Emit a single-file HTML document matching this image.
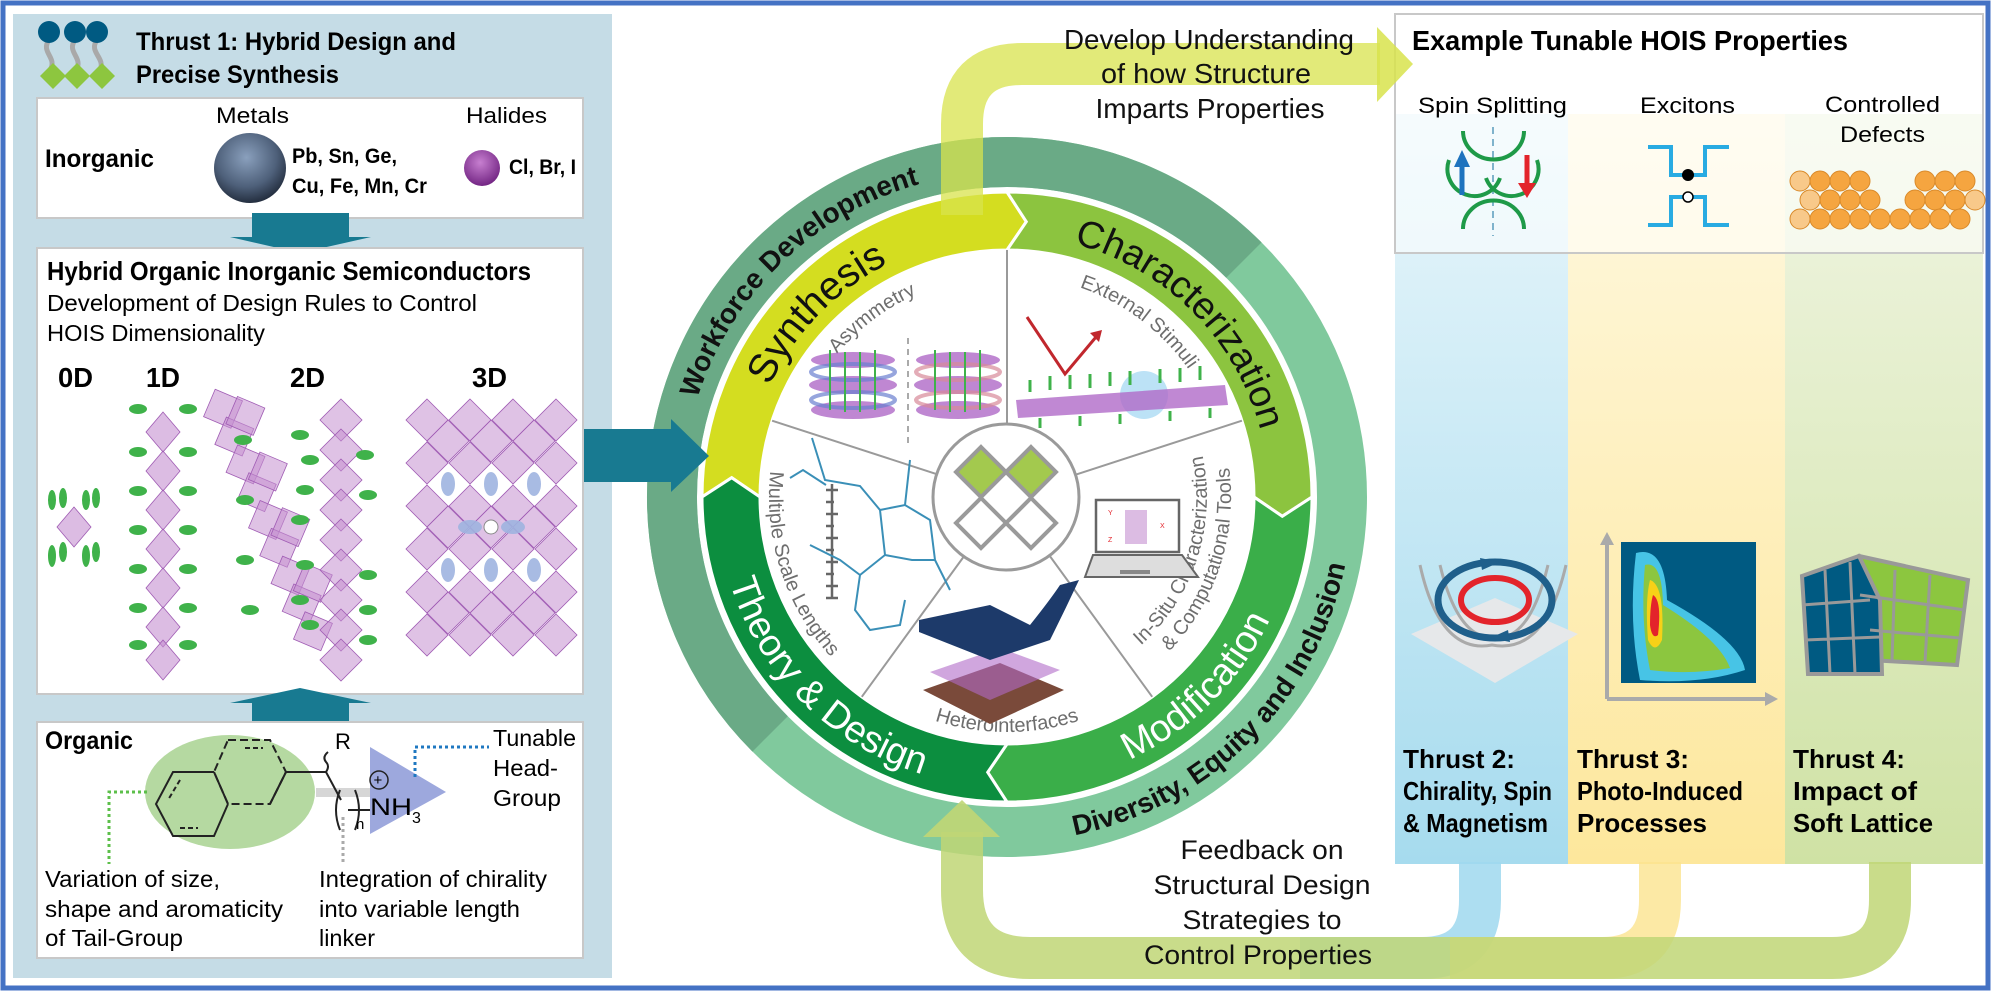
<!DOCTYPE html>
<html><head><meta charset="utf-8"><style>
html,body{margin:0;padding:0;background:#fff;}
svg{display:block;}
text{font-family:"Liberation Sans",sans-serif;}
.b{font-weight:bold;}
</style></head><body>
<svg width="1991" height="991" viewBox="0 0 1991 991" xmlns="http://www.w3.org/2000/svg">
<defs>
<radialGradient id="metal" cx="0.45" cy="0.35" r="0.7"><stop offset="0" stop-color="#8aa0bd"/><stop offset="0.6" stop-color="#4e607a"/><stop offset="1" stop-color="#1b2433"/></radialGradient>
<radialGradient id="hal" cx="0.45" cy="0.35" r="0.7"><stop offset="0" stop-color="#c77fd0"/><stop offset="1" stop-color="#6d1f7e"/></radialGradient>
<linearGradient id="cb" x1="0" y1="0" x2="0" y2="1"><stop offset="0" stop-color="#f2fafd"/><stop offset="1" stop-color="#a6dbee"/></linearGradient>
<linearGradient id="cy" x1="0" y1="0" x2="0" y2="1"><stop offset="0" stop-color="#fffbea"/><stop offset="1" stop-color="#fde79c"/></linearGradient>
<linearGradient id="cg" x1="0" y1="0" x2="0" y2="1"><stop offset="0" stop-color="#f5f8ec"/><stop offset="1" stop-color="#cfe2a4"/></linearGradient>
<polygon id="oct" points="0,-21 21,0 0,21 -21,0" fill="#c58fd0" fill-opacity="0.55" stroke="#a05cb4" stroke-width="0.8"/>
<polygon id="octs" points="0,-20 17,0 0,20 -17,0" fill="#c58fd0" fill-opacity="0.6" stroke="#a05cb4" stroke-width="0.8"/>
<ellipse id="grn" rx="9" ry="5" fill="#3fb24a"/>
<path id="pWork" d="M691.7,575.6 A325,325 0 0 1 1096.6,184.6"/>
<path id="pDEI" d="M917.7,830.2 A345,345 0 0 0 1340.2,407.7"/>
<path id="pSyn" d="M755.1,569.2 A262,262 0 0 1 1070.4,242.8"/>
<path id="pChar" d="M939.2,243.9 A262,262 0 0 1 1260.1,564.8"/>
<path id="pMod" d="M931.9,777.1 A290,290 0 0 0 1287.1,421.9"/>
<path id="pThe" d="M726.9,421.9 A290,290 0 0 0 1082.1,777.1"/>
<path id="pAsy" d="M790.7,447.1 A222,222 0 0 1 1018.6,275.3"/>
<path id="pExt" d="M995.4,275.3 A222,222 0 0 1 1223.3,447.1"/>
<path id="pIn1" d="M1048.6,692.6 A200,200 0 0 0 1155.6,363.2"/>
<path id="pIn2" d="M1053.6,716.1 A224,224 0 0 0 1173.5,347.1"/>
<path id="pHet" d="M855.9,677 A235,235 0 0 0 1158.1,677"/>
<path id="pMul" d="M786.3,407.8 A238,238 0 0 0 880.9,698.8"/>
</defs>

<!-- LEFT PANEL -->
<rect x="13" y="14" width="599" height="964" fill="#c5dce6"/>
<g stroke="#a9a9a9" stroke-width="5" fill="none">
<path d="M49,40 C40,52 58,58 50,70"/><path d="M75,40 C66,52 84,58 76,70"/><path d="M97,40 C88,52 106,58 100,70"/>
</g>
<circle cx="49" cy="32" r="11" fill="#005a82"/><circle cx="75" cy="32" r="11" fill="#005a82"/><circle cx="97" cy="32" r="11" fill="#005a82"/>
<g fill="#8dc63f"><polygon points="53,63 66,76 53,89 40,76"/><polygon points="77,63 90,76 77,89 64,76"/><polygon points="102,63 115,76 102,89 89,76"/></g>
<text x="136" y="50" class="b" font-size="25" textLength="320" lengthAdjust="spacingAndGlyphs">Thrust 1: Hybrid Design and</text>
<text x="136" y="83" class="b" font-size="25" textLength="203" lengthAdjust="spacingAndGlyphs">Precise Synthesis</text>

<rect x="37" y="98" width="546" height="120" fill="#fff" stroke="#c8c8c8" stroke-width="2"/>
<text x="45" y="167" class="b" font-size="25" textLength="109" lengthAdjust="spacingAndGlyphs">Inorganic</text>
<text x="216" y="123" font-size="22" textLength="73" lengthAdjust="spacingAndGlyphs">Metals</text>
<text x="466" y="123" font-size="22" textLength="81" lengthAdjust="spacingAndGlyphs">Halides</text>
<ellipse cx="250" cy="168" rx="36" ry="35" fill="url(#metal)"/>
<text x="292" y="163" class="b" font-size="21" textLength="105" lengthAdjust="spacingAndGlyphs">Pb, Sn, Ge,</text>
<text x="292" y="193" class="b" font-size="21" textLength="135" lengthAdjust="spacingAndGlyphs">Cu, Fe, Mn, Cr</text>
<circle cx="482" cy="168" r="18" fill="url(#hal)"/>
<text x="509" y="174" class="b" font-size="21" textLength="67" lengthAdjust="spacingAndGlyphs">Cl, Br, I</text>
<polygon points="252,213 349,213 349,237 371,237 300,253 230,237 252,237" fill="#187a91"/>

<rect x="37" y="248" width="546" height="446" fill="#fff" stroke="#c8c8c8" stroke-width="2"/>
<text x="47" y="280" class="b" font-size="26" textLength="484" lengthAdjust="spacingAndGlyphs">Hybrid Organic Inorganic Semiconductors</text>
<text x="47" y="311" font-size="23" textLength="430" lengthAdjust="spacingAndGlyphs">Development of Design Rules to Control</text>
<text x="47" y="341" font-size="23" textLength="218" lengthAdjust="spacingAndGlyphs">HOIS Dimensionality</text>
<text x="58" y="387" class="b" font-size="28" textLength="35" lengthAdjust="spacingAndGlyphs">0D</text>
<text x="146" y="387" class="b" font-size="28" textLength="34" lengthAdjust="spacingAndGlyphs">1D</text>
<text x="290" y="387" class="b" font-size="28" textLength="35" lengthAdjust="spacingAndGlyphs">2D</text>
<text x="472" y="387" class="b" font-size="28" textLength="35" lengthAdjust="spacingAndGlyphs">3D</text>
<use href="#octs" x="74" y="527"/>
<g fill="#3fb24a"><ellipse cx="52" cy="500" rx="4" ry="10"/><ellipse cx="63" cy="498" rx="4" ry="10"/><ellipse cx="86" cy="500" rx="4" ry="10"/><ellipse cx="96" cy="498" rx="4" ry="10"/>
<ellipse cx="52" cy="556" rx="4" ry="11"/><ellipse cx="63" cy="552" rx="4" ry="10"/><ellipse cx="86" cy="556" rx="4" ry="11"/><ellipse cx="96" cy="552" rx="4" ry="10"/></g>
<g><use href="#octs" x="163" y="432"/><use href="#octs" x="163" y="471"/><use href="#octs" x="163" y="510"/><use href="#octs" x="163" y="549"/><use href="#octs" x="163" y="588"/><use href="#octs" x="163" y="627"/><use href="#octs" x="163" y="660"/></g>
<g><use href="#grn" x="138" y="409"/><use href="#grn" x="188" y="409"/><use href="#grn" x="138" y="452"/><use href="#grn" x="188" y="452"/><use href="#grn" x="138" y="491"/><use href="#grn" x="188" y="491"/><use href="#grn" x="138" y="530"/><use href="#grn" x="188" y="530"/><use href="#grn" x="138" y="569"/><use href="#grn" x="188" y="569"/><use href="#grn" x="138" y="608"/><use href="#grn" x="188" y="608"/><use href="#grn" x="138" y="645"/><use href="#grn" x="188" y="645"/></g>
<g transform="translate(268,520) rotate(-22)">
<use href="#oct" x="0" y="-120"/><use href="#oct" x="0" y="-90"/><use href="#oct" x="0" y="-60"/><use href="#oct" x="0" y="-30"/><use href="#oct" x="0" y="0"/><use href="#oct" x="0" y="30"/><use href="#oct" x="0" y="60"/><use href="#oct" x="0" y="90"/><use href="#oct" x="0" y="120"/>
<use href="#oct" x="18" y="-105"/><use href="#oct" x="18" y="-45"/><use href="#oct" x="18" y="15"/><use href="#oct" x="18" y="75"/>
</g>
<g><use href="#oct" x="341" y="420"/><use href="#oct" x="341" y="450"/><use href="#oct" x="341" y="480"/><use href="#oct" x="341" y="510"/><use href="#oct" x="341" y="540"/><use href="#oct" x="341" y="570"/><use href="#oct" x="341" y="600"/><use href="#oct" x="341" y="630"/><use href="#oct" x="341" y="660"/></g>
<g><use href="#grn" x="243" y="440"/><use href="#grn" x="300" y="435"/><use href="#grn" x="310" y="460"/><use href="#grn" x="365" y="455"/><use href="#grn" x="245" y="500"/><use href="#grn" x="305" y="490"/><use href="#grn" x="368" y="495"/><use href="#grn" x="300" y="520"/><use href="#grn" x="245" y="560"/><use href="#grn" x="305" y="565"/><use href="#grn" x="368" y="575"/><use href="#grn" x="300" y="600"/><use href="#grn" x="368" y="610"/><use href="#grn" x="250" y="610"/><use href="#grn" x="310" y="625"/><use href="#grn" x="368" y="640"/></g>
<g>
<use href="#oct" x="427" y="420"/><use href="#oct" x="470" y="420"/><use href="#oct" x="513" y="420"/><use href="#oct" x="556" y="420"/>
<use href="#oct" x="427" y="463"/><use href="#oct" x="470" y="463"/><use href="#oct" x="513" y="463"/><use href="#oct" x="556" y="463"/>
<use href="#oct" x="427" y="506"/><use href="#oct" x="470" y="506"/><use href="#oct" x="513" y="506"/><use href="#oct" x="556" y="506"/>
<use href="#oct" x="427" y="549"/><use href="#oct" x="470" y="549"/><use href="#oct" x="513" y="549"/><use href="#oct" x="556" y="549"/>
<use href="#oct" x="427" y="592"/><use href="#oct" x="470" y="592"/><use href="#oct" x="513" y="592"/><use href="#oct" x="556" y="592"/>
<use href="#oct" x="427" y="635"/><use href="#oct" x="470" y="635"/><use href="#oct" x="513" y="635"/><use href="#oct" x="556" y="635"/>
<use href="#oct" x="448" y="441"/><use href="#oct" x="491" y="441"/><use href="#oct" x="534" y="441"/>
<use href="#oct" x="448" y="527"/><use href="#oct" x="491" y="527"/><use href="#oct" x="534" y="527"/>
<use href="#oct" x="448" y="613"/><use href="#oct" x="491" y="613"/><use href="#oct" x="534" y="613"/>
</g>
<g fill="#9fb4e0" opacity="0.9"><ellipse cx="448" cy="484" rx="7" ry="12"/><ellipse cx="491" cy="484" rx="7" ry="12"/><ellipse cx="534" cy="484" rx="7" ry="12"/><ellipse cx="448" cy="570" rx="7" ry="12"/><ellipse cx="491" cy="570" rx="7" ry="12"/><ellipse cx="534" cy="570" rx="7" ry="12"/><ellipse cx="470" cy="527" rx="12" ry="7"/><ellipse cx="513" cy="527" rx="12" ry="7"/></g>
<circle cx="491" cy="527" r="7" fill="#fff" stroke="#888" stroke-width="1"/>
<polygon points="252,728 349,728 349,703 371,703 300,688 230,703 252,703" fill="#187a91"/>

<rect x="37" y="722" width="546" height="236" fill="#fff" stroke="#c8c8c8" stroke-width="2"/>
<text x="45" y="749" class="b" font-size="25" textLength="88" lengthAdjust="spacingAndGlyphs">Organic</text>
<ellipse cx="230" cy="792" rx="85" ry="57" fill="#b5d9a1"/>
<rect x="316" y="788" width="54" height="9" fill="#d6d6d6"/>
<polygon points="370,747 446,792 370,834" fill="#9da8dd"/>
<g stroke="#222" stroke-width="2" fill="none">
<path d="M228,740 L270,740 L286,772 L270,804 L228,804 L214,772 Z" stroke-dasharray="8,4"/>
<path d="M214,772 L228,804 M270,804 L286,772 M214,772 L173,772 L156,804 L173,836 L214,836 L228,804"/>
<path d="M286,772 L326,772 M326,772 q4,-6 0,-10 q-4,-5 2,-10 M326,772 L341,800"/>
<path d="M340,790 q-8,20 0,40 M355,790 q8,20 0,40 M348,810 L370,810"/>
</g>
<path d="M180,780 L168,800 M180,828 L198,828 M245,748 L263,748" stroke="#222" stroke-width="2" stroke-dasharray="5,3"/>
<text x="335" y="749" font-size="22">R</text>
<circle cx="379" cy="780" r="9" fill="none" stroke="#222" stroke-width="1.5"/>
<text x="373.5" y="785" font-size="15">+</text>
<text x="370" y="815" font-size="24" textLength="42" lengthAdjust="spacingAndGlyphs">NH</text>
<text x="412" y="823" font-size="16">3</text>
<text x="356" y="829" font-size="15">n</text>
<path d="M415,777 L415,747 L489,747" stroke="#1f78c1" stroke-width="3" stroke-dasharray="3,3" fill="none"/>
<path d="M147,792 L109,792 L109,864" stroke="#5cbf4a" stroke-width="3" stroke-dasharray="3,3" fill="none"/>
<path d="M343,817 L343,864" stroke="#aaa" stroke-width="3" stroke-dasharray="3,3" fill="none"/>
<text x="493" y="746" font-size="23" textLength="83" lengthAdjust="spacingAndGlyphs">Tunable</text>
<text x="493" y="776" font-size="23" textLength="65" lengthAdjust="spacingAndGlyphs">Head-</text>
<text x="493" y="806" font-size="23" textLength="68" lengthAdjust="spacingAndGlyphs">Group</text>
<text x="45" y="887" font-size="23" textLength="175" lengthAdjust="spacingAndGlyphs">Variation of size,</text>
<text x="45" y="917" font-size="23" textLength="238" lengthAdjust="spacingAndGlyphs">shape and aromaticity</text>
<text x="45" y="946" font-size="23" textLength="138" lengthAdjust="spacingAndGlyphs">of Tail-Group</text>
<text x="319" y="887" font-size="23" textLength="228" lengthAdjust="spacingAndGlyphs">Integration of chirality</text>
<text x="319" y="917" font-size="23" textLength="201" lengthAdjust="spacingAndGlyphs">into variable length</text>
<text x="319" y="946" font-size="23" textLength="56" lengthAdjust="spacingAndGlyphs">linker</text>

<!-- RIGHT COLUMNS -->
<rect x="1395" y="14" width="173" height="850" fill="url(#cb)"/>
<rect x="1568" y="14" width="217" height="850" fill="url(#cy)"/>
<rect x="1785" y="14" width="198" height="850" fill="url(#cg)"/>
<rect x="1395" y="14" width="588" height="100" fill="#fff"/>
<rect x="1395" y="14" width="588" height="239" fill="#fff" fill-opacity="0.55" stroke="#c8c8c8" stroke-width="2"/>
<text x="1412" y="50" class="b" font-size="28" textLength="436" lengthAdjust="spacingAndGlyphs">Example Tunable HOIS Properties</text>
<text x="1418" y="113" font-size="22" textLength="149" lengthAdjust="spacingAndGlyphs">Spin Splitting</text>
<text x="1640" y="113" font-size="22" textLength="95" lengthAdjust="spacingAndGlyphs">Excitons</text>
<text x="1825" y="112" font-size="22" textLength="115" lengthAdjust="spacingAndGlyphs">Controlled</text>
<text x="1840" y="142" font-size="22" textLength="85" lengthAdjust="spacingAndGlyphs">Defects</text>
<path d="M1493,127 L1493,236" stroke="#7fb3cc" stroke-width="2" stroke-dasharray="7,5"/>
<g stroke="#1e9a48" stroke-width="4" fill="none">
<path d="M1463,131 A30,28 0 0 0 1524,131"/>
<path d="M1449,160 A26,26 0 0 0 1500,178 M1486,178 A26,26 0 0 0 1537,160"/>
<path d="M1463,229 A30,28 0 0 1 1524,229"/>
</g>
<path d="M1462,195 L1462,165" stroke="#1e73be" stroke-width="5"/><polygon points="1454,167 1470,167 1462,150" fill="#1e73be"/>
<path d="M1527,155 L1527,185" stroke="#e3242b" stroke-width="5"/><polygon points="1518,183 1536,183 1527,198" fill="#e3242b"/>
<g stroke="#29abe2" stroke-width="4" fill="none">
<path d="M1648,147 L1671,147 L1671,175 L1705,175 L1705,147 L1729,147"/>
<path d="M1648,225 L1671,225 L1671,197 L1705,197 L1705,225 L1729,225"/>
</g>
<circle cx="1688" cy="175" r="6" fill="#000"/><circle cx="1688" cy="197" r="5" fill="#fff" stroke="#000" stroke-width="1.5"/>
<g fill="#f5a540" stroke="#d98a2a" stroke-width="1">
<circle cx="1800" cy="181" r="10" fill="#f8c98a"/><circle cx="1820" cy="181" r="10"/><circle cx="1840" cy="181" r="10"/><circle cx="1860" cy="181" r="10"/>
<circle cx="1925" cy="181" r="10"/><circle cx="1945" cy="181" r="10"/><circle cx="1965" cy="181" r="10"/>
<circle cx="1810" cy="200" r="10" fill="#f8c98a"/><circle cx="1830" cy="200" r="10"/><circle cx="1850" cy="200" r="10"/><circle cx="1870" cy="200" r="10"/><circle cx="1915" cy="200" r="10"/><circle cx="1935" cy="200" r="10"/><circle cx="1955" cy="200" r="10"/><circle cx="1975" cy="200" r="10" fill="#f8c98a"/>
<circle cx="1800" cy="219" r="10" fill="#f8c98a"/><circle cx="1820" cy="219" r="10"/><circle cx="1840" cy="219" r="10"/><circle cx="1860" cy="219" r="10"/><circle cx="1880" cy="219" r="10"/><circle cx="1900" cy="219" r="10"/><circle cx="1920" cy="219" r="10"/><circle cx="1940" cy="219" r="10"/><circle cx="1960" cy="219" r="10"/>
</g>
<polygon points="1411,634 1495,598 1578,634 1495,683" fill="#e6e8ea"/>
<g stroke="#aaa" stroke-width="3" fill="none"><path d="M1420,565 Q1440,655 1492,645 Q1545,655 1566,565"/><path d="M1440,565 Q1458,640 1495,638 Q1530,640 1548,565"/></g>
<ellipse cx="1495" cy="600" rx="57" ry="38" fill="none" stroke="#1f5f8b" stroke-width="7"/>
<polygon points="1480,558 1500,562 1482,570" fill="#1f5f8b"/><polygon points="1510,642 1490,638 1508,630" fill="#1f5f8b"/>
<ellipse cx="1495" cy="600" rx="34" ry="22" fill="none" stroke="#e3242b" stroke-width="6"/>
<path d="M1607,699 L1607,540 M1607,699 L1770,699" stroke="#aaa" stroke-width="4" fill="none"/>
<polygon points="1600,545 1614,545 1607,532" fill="#aaa"/><polygon points="1765,692 1765,706 1778,699" fill="#aaa"/>
<rect x="1621" y="542" width="135" height="141" fill="#005a82"/>
<path d="M1636,553 Q1665,545 1667,600 Q1740,640 1745,670 Q1700,685 1640,680 Q1628,620 1636,553 Z" fill="#47c4e6"/>
<path d="M1645,565 Q1662,560 1663,605 Q1720,640 1730,668 Q1690,675 1650,670 Q1640,620 1645,565 Z" fill="#8cc63f"/>
<path d="M1650,580 Q1665,585 1662,640 Q1655,655 1648,640 Q1645,600 1650,580 Z" fill="#f7d117"/>
<path d="M1653,595 Q1662,600 1658,635 Q1652,640 1650,625 Q1650,605 1653,595 Z" fill="#e3242b"/>
<polygon points="1859,556 1968,580 1957,665 1870,660 1830,600" fill="#8cc63f" stroke="#999" stroke-width="4"/>
<polygon points="1802,576 1859,556 1880,600 1882,674 1808,674" fill="#005a82" stroke="#999" stroke-width="4"/>
<g stroke="#999" stroke-width="3"><path d="M1802,605 L1870,600 M1805,640 L1880,637 M1825,570 L1830,674 M1850,562 L1855,674 M1895,570 L1892,660 M1930,575 L1925,662 M1860,595 L1965,610 M1870,630 L1960,638"/></g>
<text x="1403" y="768" class="b" font-size="26" textLength="112" lengthAdjust="spacingAndGlyphs">Thrust 2:</text>
<text x="1403" y="800" class="b" font-size="26" textLength="149" lengthAdjust="spacingAndGlyphs">Chirality, Spin</text>
<text x="1403" y="832" class="b" font-size="26" textLength="145" lengthAdjust="spacingAndGlyphs">&amp; Magnetism</text>
<text x="1577" y="768" class="b" font-size="26" textLength="112" lengthAdjust="spacingAndGlyphs">Thrust 3:</text>
<text x="1577" y="800" class="b" font-size="26" textLength="166" lengthAdjust="spacingAndGlyphs">Photo-Induced</text>
<text x="1577" y="832" class="b" font-size="26" textLength="130" lengthAdjust="spacingAndGlyphs">Processes</text>
<text x="1793" y="768" class="b" font-size="26" textLength="112" lengthAdjust="spacingAndGlyphs">Thrust 4:</text>
<text x="1793" y="800" class="b" font-size="26" textLength="124" lengthAdjust="spacingAndGlyphs">Impact of</text>
<text x="1793" y="832" class="b" font-size="26" textLength="140" lengthAdjust="spacingAndGlyphs">Soft Lattice</text>

<!-- CENTER WHEEL -->
<circle cx="1007" cy="497" r="335" fill="none" stroke="#80c99d" stroke-width="50"/>
<path d="M770.1,733.9 A335,335 0 0 1 1243.9,260.1" fill="none" stroke="#6aaa86" stroke-width="50"/>
<circle cx="1007" cy="497" r="308" fill="#fff"/>
<g stroke="#fff" stroke-width="3">
<path d="M702,497 A305,305 0 0 1 1007,192 L1026.3,221.7 L1007,250 A247,247 0 0 0 760,497 L731.7,477.7 Z" fill="#d4dd20"/>
<path d="M1007,192 A305,305 0 0 1 1312,497 L1282.3,516.3 L1254,497 A247,247 0 0 0 1007,250 L1026.3,221.7 Z" fill="#8cc43f"/>
<path d="M1312,497 A305,305 0 0 1 1007,802 L987.7,772.3 L1007,744 A247,247 0 0 0 1254,497 L1282.3,516.3 Z" fill="#3aae49"/>
<path d="M1007,802 A305,305 0 0 1 702,497 L731.7,477.7 L760,497 A247,247 0 0 0 1007,744 L987.7,772.3 Z" fill="#0c8e3f"/>
</g>
<text class="b" font-size="28" fill="#111"><textPath href="#pWork" startOffset="50%" text-anchor="middle">Workforce Development</textPath></text>
<text class="b" font-size="28" fill="#111"><textPath href="#pDEI" startOffset="50%" text-anchor="middle">Diversity, Equity and Inclusion</textPath></text>
<text font-size="40" fill="#111"><textPath href="#pSyn" startOffset="50%" text-anchor="middle">Synthesis</textPath></text>
<text font-size="38" fill="#111"><textPath href="#pChar" startOffset="50%" text-anchor="middle">Characterization</textPath></text>
<text font-size="38" fill="#fff"><textPath href="#pMod" startOffset="50%" text-anchor="middle">Modification</textPath></text>
<text font-size="38" fill="#fff"><textPath href="#pThe" startOffset="50%" text-anchor="middle">Theory &amp; Design</textPath></text>
<g stroke="#9a9a9a" stroke-width="2">
<path d="M1007,424 L1007,250 M1076.4,474.4 L1241.9,420.7 M1049.9,556.1 L1152.2,696.8 M964.1,556.1 L861.8,696.8 M937.6,474.4 L772.1,420.7"/>
</g>
<g font-size="20" fill="#6e6e6e">
<text><textPath href="#pAsy" startOffset="50%" text-anchor="middle">Asymmetry</textPath></text>
<text><textPath href="#pExt" startOffset="50%" text-anchor="middle">External Stimuli</textPath></text>
<text><textPath href="#pIn1" startOffset="50%" text-anchor="middle">In-Situ Characterization</textPath></text>
<text><textPath href="#pIn2" startOffset="50%" text-anchor="middle">&amp; Computational Tools</textPath></text>
<text><textPath href="#pHet" startOffset="50%" text-anchor="middle">Heterointerfaces</textPath></text>
<text><textPath href="#pMul" startOffset="50%" text-anchor="middle">Multiple Scale Lengths</textPath></text>
</g>
<path d="M908,338 L908,444" stroke="#aaa" stroke-width="2" stroke-dasharray="6,5"/>
<g fill="#b06ac8" opacity="0.8"><ellipse cx="853" cy="360" rx="42" ry="8"/><ellipse cx="853" cy="385" rx="44" ry="9"/><ellipse cx="853" cy="410" rx="42" ry="9"/><ellipse cx="958" cy="360" rx="42" ry="8"/><ellipse cx="958" cy="385" rx="44" ry="9"/><ellipse cx="958" cy="410" rx="42" ry="9"/></g>
<g fill="none" stroke-width="4" opacity="0.7"><ellipse cx="853" cy="372" rx="42" ry="8" stroke="#6a7fd0"/><ellipse cx="853" cy="400" rx="42" ry="8" stroke="#6a7fd0"/><ellipse cx="958" cy="372" rx="42" ry="8" stroke="#d88a9a"/><ellipse cx="958" cy="400" rx="42" ry="8" stroke="#d88a9a"/></g>
<g stroke="#3fb24a" stroke-width="2"><path d="M830,350 v60 M845,352 v60 M860,352 v60 M875,350 v60 M935,350 v60 M950,352 v60 M965,352 v60 M980,350 v60"/></g>
<path d="M1027,317 L1065,374 L1096,337" stroke="#c1272d" stroke-width="3" fill="none"/><polygon points="1090,333 1102,330 1099,342" fill="#c1272d"/>
<circle cx="1144" cy="395" r="24" fill="#9fd6f2" opacity="0.7"/>
<polygon points="1016,400 1225,385 1228,405 1018,418" fill="#b06ac8" opacity="0.8"/>
<g stroke="#3fb24a" stroke-width="3"><path d="M1030,392 v-12 M1050,390 v-14 M1070,389 v-14 M1090,388 v-14 M1110,386 v-14 M1130,385 v-14 M1160,383 v-14 M1180,382 v-14 M1200,380 v-14 M1040,418 v10 M1080,416 v10 M1120,414 v10 M1170,411 v10 M1210,408 v10"/></g>
<rect x="1096" y="500" width="83" height="52" fill="#fff" stroke="#666" stroke-width="2.5"/>
<polygon points="1093,555 1182,555 1198,577 1085,577" fill="#ddd" stroke="#666" stroke-width="2"/>
<rect x="1120" y="570" width="30" height="4" fill="#888"/>
<rect x="1125" y="510" width="22" height="34" fill="#c58fd0" opacity="0.6"/>
<g fill="#e3242b" font-size="7"><text x="1108" y="515">Y</text><text x="1108" y="542">Z</text><text x="1160" y="528">X</text></g>
<polygon points="923,690 1000,663 1064,690 990,724" fill="#7a4a3a"/>
<polygon points="930,672 1000,648 1060,670 990,700" fill="#b06ac8" opacity="0.6"/>
<path d="M919,620 L990,605 L1030,625 Q1050,600 1060,585 L1079,580 Q1065,610 1050,640 L990,660 L919,632 Z" fill="#1d3a6a"/>
<path d="M832,484 L832,599 M826,490 h12 M826,502 h8 M826,514 h12 M826,526 h8 M826,538 h12 M826,550 h8 M826,562 h12 M826,574 h8 M826,586 h12 M826,598 h12" stroke="#666" stroke-width="2.5" fill="none"/>
<g stroke="#3a8fb7" stroke-width="2" fill="none"><path d="M812,438 L825,480 L860,486 L880,510 L905,505 L930,520 L935,560 M880,510 L885,555 L860,575 L855,610 L870,630 L900,625 L905,600 M885,555 L912,560 L935,560 L950,590 M790,478 L803,470 L826,485 M810,545 L840,560 L860,575 M910,460 L905,505"/></g>
<circle cx="1006" cy="497" r="73" fill="#fff" stroke="#9a9a9a" stroke-width="3"/>
<g stroke="#9a9a9a" stroke-width="4">
<polygon points="981,447 1006,472 981,497 956,472" fill="#a3c94e"/>
<polygon points="1031,447 1056,472 1031,497 1006,472" fill="#a3c94e"/>
<polygon points="981,498 1006,523 981,548 956,523" fill="#fff"/>
<polygon points="1031,498 1056,523 1031,548 1006,523" fill="#fff"/>
</g>

<polygon points="584,429 671,429 671,419 709,456 671,492 671,482 584,482" fill="#187a91"/>

<path d="M962,215 L962,124 Q962,64 1022,64 L1380,64" fill="none" stroke="#d8e34c" stroke-opacity="0.75" stroke-width="42"/>
<polygon points="1377,27 1413,64 1377,102" fill="#d8e34c" fill-opacity="0.85"/>
<g font-size="28" text-anchor="middle" fill="#111">
<text x="1209" y="49" textLength="290" lengthAdjust="spacingAndGlyphs">Develop Understanding</text>
<text x="1206" y="83" textLength="210" lengthAdjust="spacingAndGlyphs">of how Structure</text>
<text x="1210" y="118" textLength="229" lengthAdjust="spacingAndGlyphs">Imparts Properties</text>
</g>

<path d="M1480,862 L1480,900 Q1480,958 1422,958 L1300,958" fill="none" stroke="#9fd8ee" stroke-opacity="0.85" stroke-width="42"/>
<path d="M1660,862 L1660,900 Q1660,958 1602,958 L1450,958" fill="none" stroke="#fbe48e" stroke-opacity="0.8" stroke-width="42"/>
<path d="M1890,862 L1890,900 Q1890,958 1832,958 L1030,958 Q962,958 962,890 L962,832" fill="none" stroke="#c0d676" stroke-opacity="0.85" stroke-width="42"/>
<polygon points="923,837 1000,837 962,800" fill="#c0d676" fill-opacity="0.9"/>
<g font-size="27" text-anchor="middle" fill="#111">
<text x="1262" y="859" textLength="163" lengthAdjust="spacingAndGlyphs">Feedback on</text>
<text x="1262" y="894" textLength="217" lengthAdjust="spacingAndGlyphs">Structural Design</text>
<text x="1262" y="929" textLength="159" lengthAdjust="spacingAndGlyphs">Strategies to</text>
<text x="1258" y="964" textLength="228" lengthAdjust="spacingAndGlyphs">Control Properties</text>
</g>

<rect x="3" y="3" width="1985" height="985" fill="none" stroke="#4472c4" stroke-width="5"/>
</svg>
</body></html>
